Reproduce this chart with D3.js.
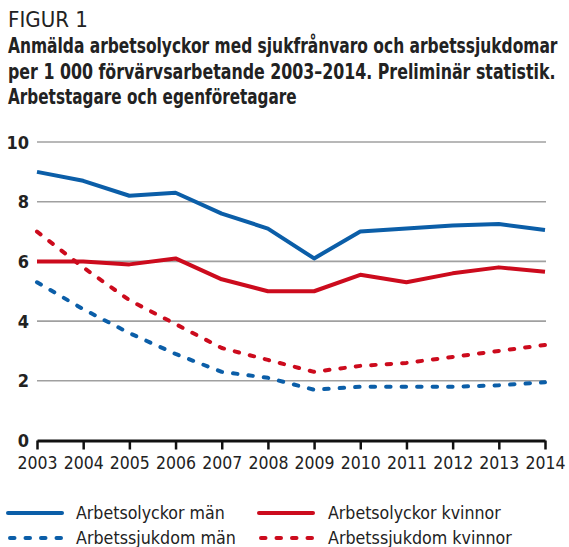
<!DOCTYPE html>
<html>
<head>
<meta charset="utf-8">
<script src="https://cdn.jsdelivr.net/npm/d3@7"></script>
<style>
  body { margin: 0; background: #fff; }
  svg text { font-family: "DejaVu Sans Condensed", "Liberation Sans Narrow", sans-serif; font-stretch: condensed; }
</style>
</head>
<body>
<div id="chart"></div>
<script>
const years = [2003, 2004, 2005, 2006, 2007, 2008, 2009, 2010, 2011, 2012, 2013, 2014];
const olyckorMan = [9.0, 8.7, 8.2, 8.3, 7.6, 7.1, 6.1, 7.0, 7.1, 7.2, 7.25, 7.05];
const olyckorKvinnor = [6.0, 6.0, 5.9, 6.1, 5.4, 5.0, 5.0, 5.55, 5.3, 5.6, 5.8, 5.65];
const sjukdomMan = [5.3, 4.4, 3.6, 2.9, 2.3, 2.1, 1.7, 1.8, 1.8, 1.8, 1.85, 1.95];
const sjukdomKvinnor = [7.0, 5.8, 4.7, 3.9, 3.1, 2.7, 2.3, 2.5, 2.6, 2.8, 3.0, 3.2];
const yTicks = [0, 2, 4, 6, 8, 10];
const titleLines = [
  "Anmälda arbetsolyckor med sjukfrånvaro och arbetssjukdomar",
  "per 1 000 förvärvsarbetande 2003–2014. Preliminär statistik.",
  "Arbetstagare och egenföretagare"
];

const blue = "#0b5ea8", red = "#cc0b1d";
const series = [
  {name: "Arbetsolyckor män", values: olyckorMan, color: blue, dash: null},
  {name: "Arbetsolyckor kvinnor", values: olyckorKvinnor, color: red, dash: null},
  {name: "Arbetssjukdom män", values: sjukdomMan, color: blue, dash: "4.5,11"},
  {name: "Arbetssjukdom kvinnor", values: sjukdomKvinnor, color: red, dash: "4.5,11"}
];

const W = 569, H = 547;
const svg = d3.select("#chart").append("svg").attr("width", W).attr("height", H);

// the original face is narrow: squeeze each text horizontally to width w
function squeeze(sel, x0, y0, w) {
  sel.attr("x", 0).attr("y", 0);
  const len = sel.node().getComputedTextLength();
  sel.attr("transform", `translate(${x0},${y0}) scale(${w / len},1)`);
}

svg.append("text").attr("font-size", 21).attr("fill", "#222").text("FIGUR 1")
  .call(squeeze, 8, 27, 80);
const titleW = [550, 548, 289];
titleLines.forEach((t, i) => {
  svg.append("text")
    .attr("font-size", 20.5).attr("font-weight", "bold").attr("fill", "#222")
    .text(t).call(squeeze, 8, 53 + i * 25.5, titleW[i]);
});

const x = d3.scalePoint().domain(years).range([37, 545]);
const y = d3.scaleLinear().domain([0, 10]).range([440.5, 142]);

// gridlines
svg.append("g").selectAll("line").data(yTicks.filter(d => d > 0)).join("line")
  .attr("x1", 37).attr("x2", 546)
  .attr("y1", d => y(d)).attr("y2", d => y(d))
  .attr("stroke", "#a0a0a0").attr("stroke-width", 1.6);

// y labels
svg.append("g").selectAll("text").data(yTicks).join("text")
  .attr("x", 29).attr("y", d => y(d) + 6.5)
  .attr("text-anchor", "end").attr("font-size", 18).attr("font-weight", "bold").attr("fill", "#222")
  .text(d => d);

// x axis
const xAxis = svg.append("g").attr("transform", `translate(0,${y(0)})`)
  .call(d3.axisBottom(x).tickSize(9).tickSizeOuter(0).tickPadding(7));
xAxis.select(".domain").attr("stroke", "#111").attr("stroke-width", 3);
xAxis.selectAll(".tick line").attr("stroke", "#111").attr("stroke-width", 2.5);
xAxis.selectAll(".tick text").attr("font-size", 18).attr("fill", "#222")
  .attr("font-family", "'DejaVu Sans Condensed', sans-serif")
  .attr("textLength", 40).attr("lengthAdjust", "spacingAndGlyphs");

const line = d3.line().x((d, i) => x(years[i])).y(d => y(d));

svg.append("g").selectAll("path").data(series).join("path")
  .attr("d", d => line(d.values))
  .attr("fill", "none").attr("stroke", d => d.color).attr("stroke-width", 4)
  .attr("stroke-linejoin", "round")
  .attr("stroke-linecap", d => d.dash ? "round" : "butt")
  .attr("stroke-dasharray", d => d.dash);

// legend
const legendW = [149, 173, 160, 184];
series.forEach((s, i) => {
  const g = svg.append("g")
    .attr("transform", `translate(${i % 2 === 0 ? 8 : 259},${i < 2 ? 513 : 538})`);
  g.append("line")
    .attr("x1", s.dash ? 2 : 0).attr("x2", s.dash ? 53 : 54)
    .attr("stroke", s.color).attr("stroke-width", 4)
    .attr("stroke-linecap", "round").attr("stroke-dasharray", s.dash);
  g.append("text").attr("font-size", 18).attr("fill", "#222")
    .text(s.name).call(squeeze, i % 2 === 0 ? 68 : 69, 5.5, legendW[i]);
});
</script>
</body>
</html>
